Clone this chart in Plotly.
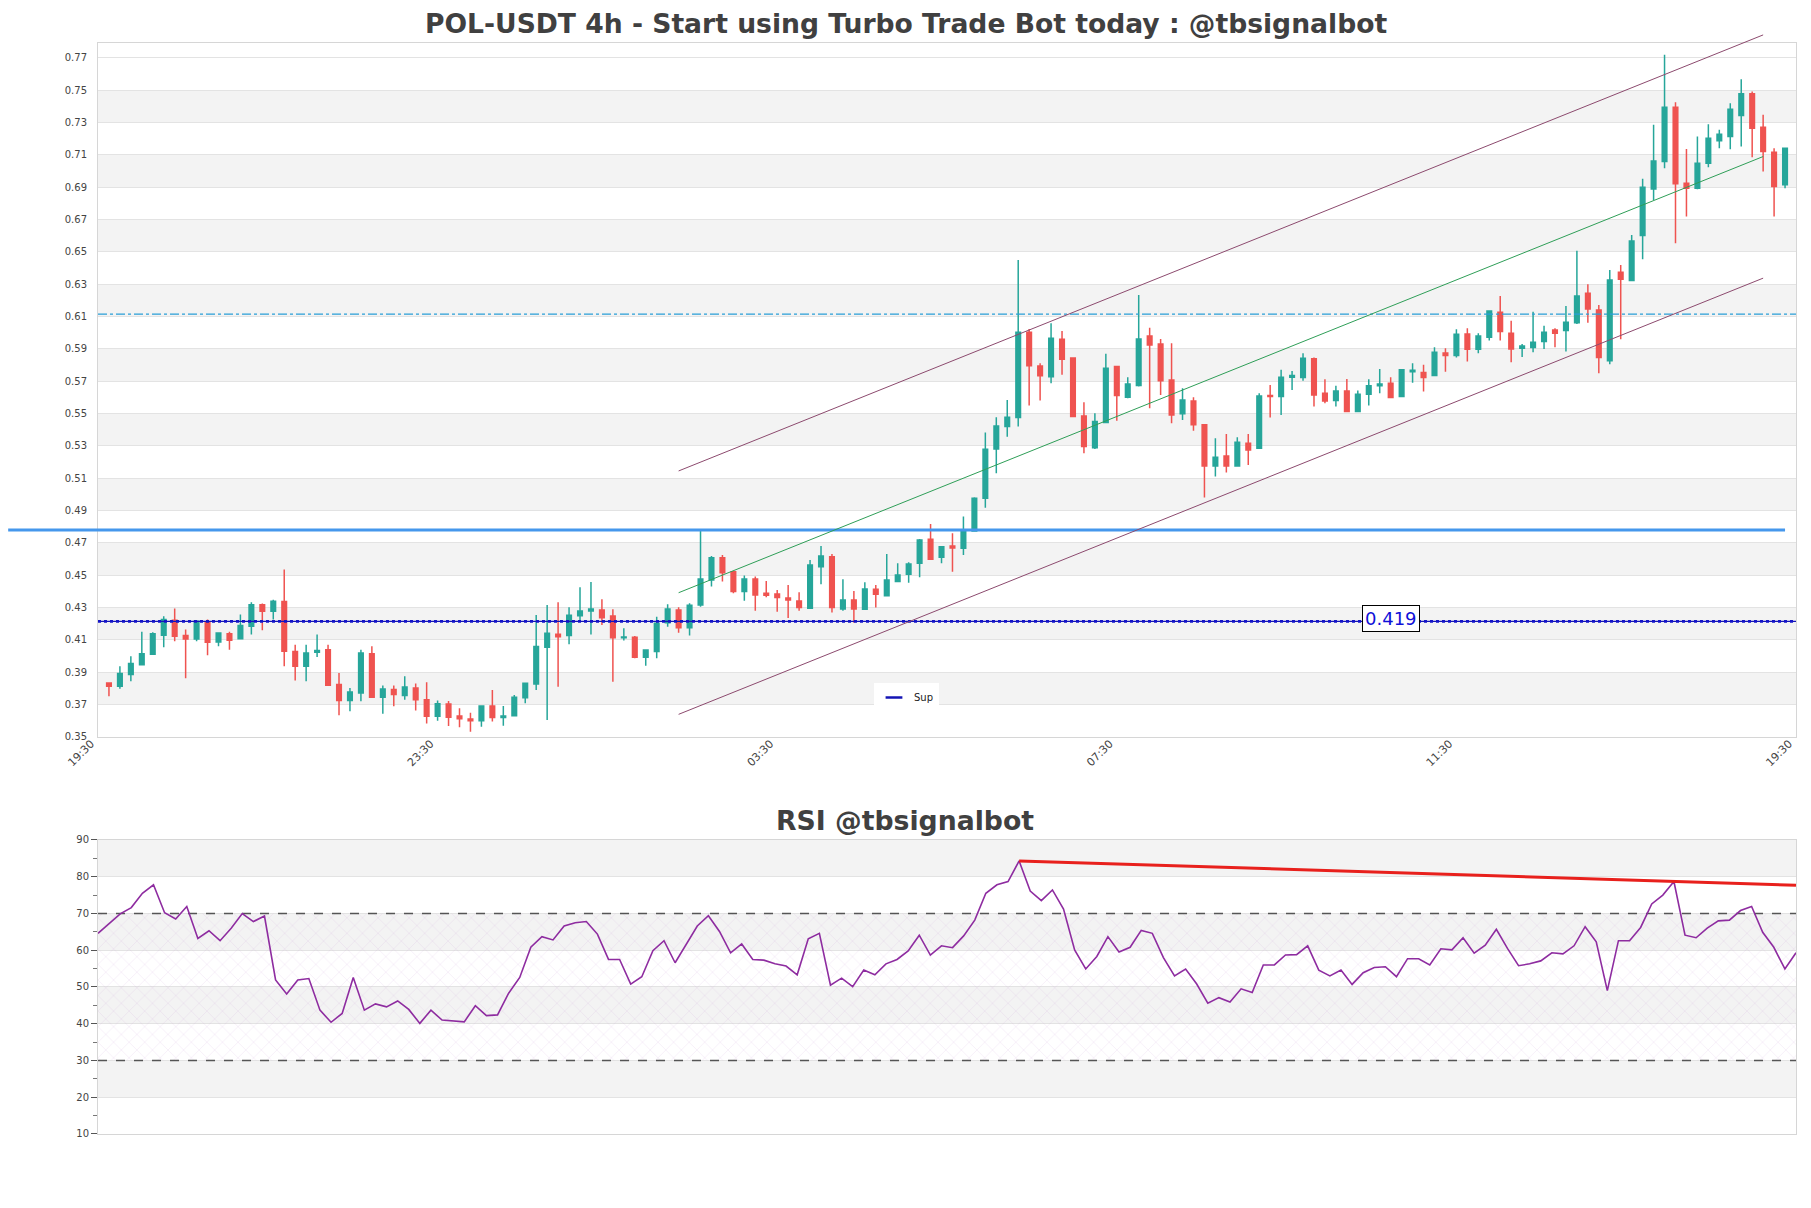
import plotly.graph_objects as go

# ---------------- data ----------------
tick_index = [-1, 30, 61, 92, 123, 154]
tick_labels = ["19:30", "23:30", "03:30", "07:30", "11:30", "19:30"]

open_ = [0.3834, 0.3813, 0.3886, 0.3947, 0.4011, 0.4129, 0.4222, 0.4127, 0.4106, 0.4209,
         0.4088, 0.4139, 0.4108, 0.4184, 0.4318, 0.4277, 0.4337, 0.4028, 0.3937, 0.4024,
         0.4040, 0.3824, 0.3725, 0.3772, 0.4015, 0.3745, 0.3793, 0.3756, 0.3803, 0.3731,
         0.3628, 0.3704, 0.3630, 0.3611, 0.3601, 0.3692, 0.3620, 0.3632, 0.3743, 0.3828,
         0.4055, 0.4135, 0.4127, 0.4250, 0.4279, 0.4285, 0.4248, 0.4114, 0.4116, 0.3993,
         0.4028, 0.4207, 0.4285, 0.4176, 0.4316, 0.4471, 0.4609, 0.4522, 0.4399, 0.4477,
         0.4388, 0.4384, 0.4360, 0.4341, 0.4296, 0.4553, 0.4615, 0.4292, 0.4347, 0.4290,
         0.4413, 0.4374, 0.4461, 0.4506, 0.4574, 0.4722, 0.4611, 0.4681, 0.4667, 0.4774,
         0.4976, 0.5281, 0.5419, 0.5475, 0.6003, 0.5794, 0.5728, 0.5959, 0.5844, 0.5485,
         0.5289, 0.5444, 0.5790, 0.5601, 0.5673, 0.5980, 0.5930, 0.5708, 0.5498, 0.5578,
         0.5430, 0.5176, 0.5238, 0.5176, 0.5316, 0.5285, 0.5611, 0.5605, 0.5724, 0.5722,
         0.5838, 0.5625, 0.5580, 0.5640, 0.5512, 0.5619, 0.5671, 0.5687, 0.5605, 0.5759,
         0.5753, 0.5735, 0.5875, 0.5858, 0.5992, 0.5897, 0.5971, 0.6126, 0.5996, 0.5903,
         0.5908, 0.5945, 0.6017, 0.6013, 0.6062, 0.6244, 0.6140, 0.5827, 0.6374, 0.6322,
         0.6600, 0.6889, 0.7058, 0.7394, 0.6924, 0.6893, 0.7048, 0.7186, 0.7213, 0.7343,
         0.7477, 0.7270, 0.7116, 0.6914]
high = [0.3838, 0.3937, 0.3999, 0.4151, 0.4147, 0.4246, 0.4294, 0.4164, 0.4222, 0.4226,
        0.4143, 0.4151, 0.4257, 0.4333, 0.4325, 0.4349, 0.4535, 0.4071, 0.4071, 0.4133,
        0.4071, 0.3896, 0.3803, 0.4040, 0.4061, 0.3818, 0.3818, 0.3875, 0.3830, 0.3838,
        0.3725, 0.3723, 0.3677, 0.3650, 0.3692, 0.3791, 0.3692, 0.3760, 0.3832, 0.4254,
        0.4316, 0.4333, 0.4302, 0.4426, 0.4459, 0.4351, 0.4290, 0.4172, 0.4125, 0.4040,
        0.4244, 0.4320, 0.4302, 0.4327, 0.4780, 0.4619, 0.4626, 0.4522, 0.4498, 0.4492,
        0.4465, 0.4409, 0.4440, 0.4395, 0.4595, 0.4681, 0.4632, 0.4475, 0.4403, 0.4457,
        0.4440, 0.4632, 0.4574, 0.4580, 0.4724, 0.4817, 0.4681, 0.4760, 0.4863, 0.4982,
        0.5382, 0.5477, 0.5584, 0.6450, 0.6023, 0.5811, 0.6058, 0.6011, 0.5844, 0.5570,
        0.5502, 0.5869, 0.5790, 0.5724, 0.6233, 0.6031, 0.5961, 0.5935, 0.5656, 0.5601,
        0.5434, 0.5347, 0.5374, 0.5353, 0.5374, 0.5625, 0.5677, 0.5770, 0.5763, 0.5873,
        0.5846, 0.5712, 0.5671, 0.5714, 0.5642, 0.5712, 0.5776, 0.5724, 0.5770, 0.5811,
        0.5801, 0.5910, 0.5904, 0.6021, 0.6027, 0.5996, 0.6134, 0.6227, 0.6073, 0.5930,
        0.6130, 0.6042, 0.6027, 0.6165, 0.6506, 0.6300, 0.6171, 0.6388, 0.6419, 0.6604,
        0.6951, 0.7285, 0.7718, 0.7425, 0.7136, 0.7213, 0.7289, 0.7254, 0.7419, 0.7567,
        0.7491, 0.7347, 0.7140, 0.7140]
low = [0.3752, 0.3799, 0.3844, 0.3947, 0.4011, 0.4055, 0.4092, 0.3863, 0.4092, 0.4005,
       0.4061, 0.4040, 0.4102, 0.4133, 0.4160, 0.4226, 0.3937, 0.3850, 0.3844, 0.3995,
       0.3815, 0.3634, 0.3659, 0.3721, 0.3745, 0.3644, 0.3690, 0.3731, 0.3663, 0.3583,
       0.3601, 0.3568, 0.3560, 0.3533, 0.3564, 0.3595, 0.3570, 0.3632, 0.3708, 0.3791,
       0.3605, 0.3811, 0.4073, 0.4224, 0.4133, 0.4193, 0.3842, 0.4096, 0.3987, 0.3941,
       0.3987, 0.4182, 0.4145, 0.4127, 0.4306, 0.4430, 0.4461, 0.4388, 0.4343, 0.4281,
       0.4364, 0.4275, 0.4236, 0.4281, 0.4296, 0.4444, 0.4269, 0.4281, 0.4207, 0.4290,
       0.4300, 0.4368, 0.4461, 0.4454, 0.4487, 0.4599, 0.4574, 0.4522, 0.4626, 0.4770,
       0.4918, 0.5131, 0.5357, 0.5419, 0.5549, 0.5580, 0.5687, 0.5739, 0.5481, 0.5254,
       0.5281, 0.5444, 0.5456, 0.5594, 0.5667, 0.5533, 0.5615, 0.5440, 0.5460, 0.5394,
       0.4980, 0.5110, 0.5135, 0.5172, 0.5182, 0.5281, 0.5475, 0.5491, 0.5646, 0.5702,
       0.5543, 0.5563, 0.5543, 0.5508, 0.5512, 0.5549, 0.5625, 0.5599, 0.5605, 0.5691,
       0.5636, 0.5735, 0.5759, 0.5846, 0.5821, 0.5873, 0.5951, 0.5951, 0.5817, 0.5850,
       0.5879, 0.5899, 0.5910, 0.5883, 0.6054, 0.6062, 0.5749, 0.5805, 0.5960, 0.6322,
       0.6454, 0.6821, 0.7017, 0.6553, 0.6718, 0.6887, 0.7023, 0.7140, 0.7134, 0.7151,
       0.7085, 0.6996, 0.6718, 0.6893]
close = [0.3813, 0.3892, 0.3954, 0.4015, 0.4139, 0.4226, 0.4123, 0.4106, 0.4215, 0.4085,
         0.4143, 0.4098, 0.4189, 0.4318, 0.4277, 0.4339, 0.4030, 0.3937, 0.4020, 0.4034,
         0.3820, 0.3725, 0.3778, 0.4020, 0.3745, 0.3797, 0.3762, 0.3809, 0.3731, 0.3628,
         0.3706, 0.3622, 0.3613, 0.3601, 0.3692, 0.3620, 0.3630, 0.3745, 0.3832, 0.4059,
         0.4141, 0.4120, 0.4252, 0.4279, 0.4292, 0.4238, 0.4114, 0.4118, 0.3993, 0.4038,
         0.4203, 0.4292, 0.4176, 0.4314, 0.4477, 0.4609, 0.4516, 0.4399, 0.4477, 0.4378,
         0.4376, 0.4362, 0.4347, 0.4300, 0.4564, 0.4619, 0.4300, 0.4347, 0.4292, 0.4415,
         0.4382, 0.4471, 0.4502, 0.4570, 0.4718, 0.4599, 0.4677, 0.4669, 0.4774, 0.4976,
         0.5279, 0.5423, 0.5477, 0.6003, 0.5796, 0.5733, 0.5966, 0.5836, 0.5481, 0.5296,
         0.5450, 0.5780, 0.5611, 0.5683, 0.5961, 0.5924, 0.5702, 0.5491, 0.5584, 0.5430,
         0.5176, 0.5230, 0.5176, 0.5322, 0.5275, 0.5609, 0.5605, 0.5724, 0.5735, 0.5842,
         0.5615, 0.5578, 0.5640, 0.5512, 0.5619, 0.5671, 0.5683, 0.5599, 0.5770, 0.5768,
         0.5722, 0.5879, 0.5858, 0.5990, 0.5897, 0.5979, 0.6134, 0.6007, 0.5899, 0.5918,
         0.5941, 0.6003, 0.5996, 0.6064, 0.6227, 0.6147, 0.5846, 0.6326, 0.6330, 0.6567,
         0.6899, 0.7062, 0.7394, 0.6920, 0.6893, 0.7048, 0.7202, 0.7227, 0.7382, 0.7477,
         0.7264, 0.7120, 0.6903, 0.7140]

rsi = [64.6, 67.3, 69.9, 71.6, 75.5, 77.8, 70.2, 68.5, 71.9, 63.2,
       65.3, 62.6, 66.0, 70.0, 67.8, 69.3, 51.9, 48.1, 51.9, 52.3,
       43.7, 40.4, 42.8, 52.6, 43.7, 45.4, 44.6, 46.2, 43.9, 40.1,
       43.7, 41.0, 40.7, 40.5, 44.9, 42.2, 42.4, 48.3, 52.6, 60.8,
       63.7, 62.8, 66.6, 67.5, 67.8, 64.4, 57.5, 57.5, 50.8, 52.8,
       59.9, 62.6, 56.6, 61.7, 66.6, 69.4, 65.1, 59.3, 61.7, 57.5,
       57.3, 56.3, 55.7, 53.3, 63.1, 64.6, 50.5, 52.4, 50.1, 54.6,
       53.3, 56.3, 57.5, 59.8, 64.1, 58.7, 61.2, 60.7, 63.9, 68.2,
       75.5, 77.8, 78.7, 84.3, 76.1, 73.5, 76.4, 71.2, 60.1, 54.9,
       58.3, 63.7, 59.5, 60.8, 65.4, 64.6, 58.0, 53.0, 54.9, 50.8,
       45.6, 47.1, 45.9, 49.5, 48.5, 56.0, 56.0, 58.7, 58.8, 61.2,
       54.6, 53.0, 54.6, 50.7, 53.9, 55.3, 55.5, 52.8, 57.7, 57.7,
       56.0, 60.4, 60.1, 63.4, 59.2, 61.4, 65.7, 60.5, 55.8, 56.3,
       57.1, 59.3, 59.0, 61.2, 66.4, 62.3, 49.0, 62.6, 62.6, 66.2,
       72.6, 75.0, 78.7, 64.1, 63.4, 66.0, 68.0, 68.2, 70.8, 71.9,
       64.9, 60.8, 54.9, 59.3]

support_level = 0.4215
support_label = "0.419"
support_label_index = 117.0
blue_level = 0.4780
blue_span = [-9.2, 153]
dashed_level = 0.6114
channel_x = [52, 151]
channel_mid = [0.4392, 0.7089]
channel_upper = [0.5145, 0.7841]
channel_lower = [0.3640, 0.6337]
rsi_trend_x = [83, 153]
rsi_trend_y = [84.3, 77.66]
rsi_levels = [30, 70]
rsi_zone = [30, 70]

# ---------------- geometry / style ----------------
W, H = 1795, 1192
ML, MR, MT, MB = 90, 7, 35, 66
FONT = "DejaVu Sans"
GREEN = "#26a69a"
RED = "#ef5350"
BAND = "#f3f3f3"
GRID = "#e3e3e3"
x_range = [-1, 154]
y_range = [0.35, 0.7791]
main_dom = [0.3639, 1.0]
rsi_dom = [0.0, 0.2695]
n = len(close)
idx = list(range(n))


def to_paper_x(v):
    return (v - x_range[0]) / (x_range[1] - x_range[0])


def price_to_paper(p):
    return main_dom[0] + (p - y_range[0]) / (y_range[1] - y_range[0]) * (main_dom[1] - main_dom[0])


def fig_y_to_paper(y_px):
    return (H - MB - y_px) / (H - MT - MB)


fig = go.Figure()

fig.add_trace(go.Candlestick(
    x=idx, open=open_, high=high, low=low, close=close,
    increasing=dict(line=dict(color=GREEN, width=1.5), fillcolor=GREEN),
    decreasing=dict(line=dict(color=RED, width=1.5), fillcolor=RED),
    whiskerwidth=0, showlegend=False, xaxis="x", yaxis="y", name="POL-USDT"))

# support line
fig.add_trace(go.Scatter(x=x_range, y=[support_level] * 2, mode="lines",
                         line=dict(color="#1414b4", width=1.2), name="Sup",
                         showlegend=False, xaxis="x", yaxis="y"))
fig.add_trace(go.Scatter(x=x_range, y=[support_level] * 2, mode="lines",
                         line=dict(color="#1414c8", width=2.6, dash="dot"),
                         showlegend=False, hoverinfo="skip", xaxis="x", yaxis="y"))
# legend entry for support
fig.add_trace(go.Scatter(x=[None], y=[None], mode="markers", name="Sup",
                         marker=dict(symbol="line-ew", size=12,
                                     line=dict(color="#1414b4", width=2.5)),
                         showlegend=True, xaxis="x", yaxis="y"))

# RSI hatched zone
fig.add_trace(go.Scatter(x=[0, n - 1], y=[rsi_zone[0]] * 2, mode="lines",
                         line=dict(width=0, color="rgba(0,0,0,0)"), showlegend=False,
                         hoverinfo="skip", xaxis="x2", yaxis="y2"))
fig.add_trace(go.Scatter(x=[0, n - 1], y=[rsi_zone[1]] * 2, mode="lines",
                         line=dict(width=0, color="rgba(0,0,0,0)"), fill="tonexty",
                         fillcolor="rgba(160,110,190,0.05)",
                         fillpattern=dict(shape="x", fgcolor="rgba(185,125,210,0.5)",
                                          bgcolor="rgba(0,0,0,0)", size=11, solidity=0.08),
                         showlegend=False, hoverinfo="skip", xaxis="x2", yaxis="y2"))
for lv in rsi_levels:
    fig.add_trace(go.Scatter(x=[0, n - 1], y=[lv, lv], mode="lines",
                             line=dict(color="#555555", width=1.3, dash="dash"),
                             showlegend=False, hoverinfo="skip", xaxis="x2", yaxis="y2"))

fig.add_trace(go.Scatter(x=idx, y=rsi, mode="lines", line=dict(color="#8e2ca0", width=1.6),
                         showlegend=False, xaxis="x2", yaxis="y2", name="RSI"))
fig.add_trace(go.Scatter(x=rsi_trend_x, y=rsi_trend_y, mode="lines",
                         line=dict(color="#e8201c", width=3), showlegend=False,
                         hoverinfo="skip", xaxis="x2", yaxis="y2"))

shapes = []
# bands main chart
v = 0.37
while v < 0.76:
    shapes.append(dict(type="rect", xref="paper", yref="y", x0=0, x1=1, y0=v, y1=v + 0.02,
                       fillcolor=BAND, line=dict(width=0), layer="below"))
    v += 0.04
# bands RSI
for lo in [20, 40, 60, 80]:
    shapes.append(dict(type="rect", xref="paper", yref="y2", x0=0, x1=1, y0=lo, y1=lo + 10,
                       fillcolor=BAND, line=dict(width=0), layer="below"))
# thick blue level
shapes.append(dict(type="line", xref="paper", yref="y", x0=to_paper_x(blue_span[0]),
                   x1=to_paper_x(blue_span[1]), y0=blue_level, y1=blue_level,
                   line=dict(color="#4597ec", width=3)))
# dashed level
shapes.append(dict(type="line", xref="paper", yref="y", x0=0, x1=1, y0=dashed_level,
                   y1=dashed_level, line=dict(color="#2a9fd8", width=1.2, dash="dashdot")))
# regression channel (may run past the top of the frame, like the original)
for ys, col in [(channel_upper, "#8c4a6e"), (channel_lower, "#8c4a6e"), (channel_mid, "#2e9e57")]:
    shapes.append(dict(type="line", xref="x", yref="paper", x0=channel_x[0], x1=channel_x[1],
                       y0=price_to_paper(ys[0]), y1=price_to_paper(ys[1]),
                       line=dict(color=col, width=1)))

annotations = [
    dict(text="<b>RSI @tbsignalbot</b>", xref="paper", yref="paper",
         x=(W / 2 - 8 - ML) / (W - ML - MR) + 0.0047, y=fig_y_to_paper(812),
         xanchor="center", yanchor="middle", showarrow=False,
         font=dict(family=FONT, size=26.7, color="#404040")),
    dict(text=support_label, xref="x", yref="y", x=support_label_index, y=support_level,
         yshift=3, showarrow=False, font=dict(family=FONT, size=18, color="#1010d8"),
         bgcolor="white", bordercolor="black", borderwidth=1, borderpad=2),
]

axis_common = dict(showline=True, linecolor="#d6d6d6", linewidth=1, mirror=True, zeroline=False)

fig.update_layout(
    width=W, height=H,
    margin=dict(l=ML, r=MR, t=MT, b=MB),
    paper_bgcolor="white", plot_bgcolor="white",
    font=dict(family=FONT, size=10, color="#444444"),
    title=dict(text="<b>POL-USDT 4h - Start using Turbo Trade Bot today : @tbsignalbot</b>",
               x=(W / 2 + 0.5 - 8) / W + 0.0045, xref="container", y=1 - 16 / H, yref="container",
               xanchor="center", yanchor="middle",
               font=dict(family=FONT, size=26.6, color="#404040")),
    xaxis=dict(domain=[0, 1], range=x_range, anchor="y", rangeslider=dict(visible=False),
               tickmode="array", tickvals=tick_index, ticktext=tick_labels, tickangle=-45,
               showgrid=False, ticks="", ticklabelshift=-7, ticklabelstandoff=-5,
               tickfont=dict(size=11, color="#444444"), **axis_common),
    yaxis=dict(domain=main_dom, range=y_range, anchor="x", tickmode="linear", tick0=0.35,
               dtick=0.02, tickformat=".2f", showgrid=True, gridcolor=GRID, ticks="outside",
               ticklen=8, tickcolor="rgba(255,255,255,0)", tickfont=dict(size=10, color="#444444"),
               **axis_common),
    xaxis2=dict(domain=[0, 1], range=[0, n - 1], anchor="y2", showticklabels=False,
                showgrid=False, ticks="", **axis_common),
    yaxis2=dict(domain=rsi_dom, range=[10, 90], anchor="x2", tickmode="linear", tick0=10,
                dtick=10, showgrid=True, gridcolor=GRID, ticks="outside", ticklen=6,
                tickcolor="#555555", tickfont=dict(size=10, color="#444444"),
                minor=dict(ticks="outside", ticklen=4, tickcolor="#777777", dtick=5, showgrid=False),
                **axis_common),
    shapes=shapes,
    annotations=annotations,
    showlegend=True,
    legend=dict(x=0.457, y=fig_y_to_paper(675), xanchor="left", yanchor="top",
                bgcolor="white", font=dict(family=FONT, size=10, color="#222222"),
                tracegroupgap=0),
    boxgap=0.4,
)

fig.write_html("out.html")
